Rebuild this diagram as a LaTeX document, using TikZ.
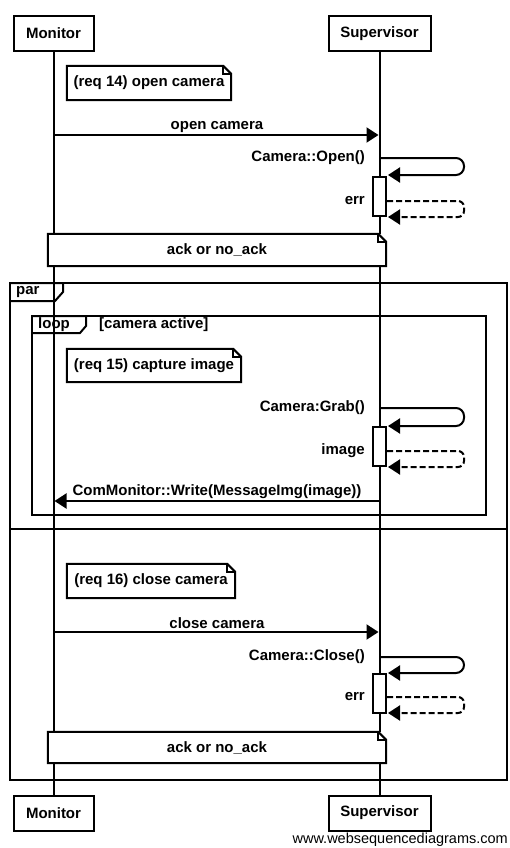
\documentclass[tikz,border=0pt]{standalone}
\usepackage{fontspec}
\setmainfont{Liberation Sans}
\usetikzlibrary{arrows.meta}
\tikzset{
  lbl/.style={font=\fontsize{15}{18}\selectfont\bfseries, inner sep=0pt},
  actor/.style={lbl, draw, line width=2pt, fill=white, minimum height=35pt},
  life/.style={line width=2pt},
  msg/.style={line width=2pt, -{Triangle[length=12pt,width=15pt]}},
  retmsg/.style={msg, dash pattern=on 6pt off 3pt},
  actbox/.style={draw, line width=2pt, fill=white, minimum width=13pt, minimum height=39pt, inner sep=0pt},
  notebox/.style={lbl, minimum height=33pt},
  frameline/.style={line width=2pt},
}
\newcommand{\noteoutline}[1]{%
  \draw[frameline, line join=miter] (#1.north west) -- ([xshift=-8pt]#1.north east) -- ([yshift=-8pt]#1.north east) -- (#1.south east) -- (#1.south west) -- cycle;
  \draw[line width=1.5pt] ([xshift=-8pt]#1.north east) -- ([xshift=-8pt,yshift=-8pt]#1.north east) -- ([yshift=-8pt]#1.north east);
}
\begin{document}
\begin{tikzpicture}[x=1pt,y=-1pt]
\useasboundingbox (0,0) rectangle (509,848);

% frames
\coordinate (parTL) at (10,283);
\coordinate (parBR) at (507,780);
\draw[frameline] (parTL) rectangle (parBR);
\draw[frameline] (parTL) -- (63,283) -- (63,292) -- (55,301) -- (10,301);
\node[lbl, anchor=west] (parlbl) at (16,292) {par};
\coordinate (sepL) at (10,529);
\coordinate (sepR) at (507,529);
\draw[frameline] (sepL) -- (sepR);

\coordinate (loopTL) at (32,316);
\coordinate (loopBR) at (486,515);
\draw[frameline] (loopTL) rectangle (loopBR);
\draw[frameline] (loopTL) -- (86,316) -- (86,326) -- (80,333) -- (32,333);
\node[lbl, anchor=west] (looplbl) at (38,324.5) {loop};
\node[lbl, anchor=west] (loopcond) at (99,324.5) {[camera active]};

% actors
\node[actor, minimum width=80pt] (monT) at (53.5,33.5) {Monitor};
\node[actor, minimum width=102pt] (supT) at (379.5,33.5) {Supervisor};
\node[actor, minimum width=80pt] (monB) at (53.5,813) {Monitor};
\node[actor, minimum width=102pt] (supB) at (379.5,813) {Supervisor};
\draw[life] (monT) -- (monB);
\draw[life] (supT) -- (supB);

% note req 14
\node[notebox, minimum width=164pt, minimum height=34pt] (n14) at (149,83) {(req 14) open camera};
\noteoutline{n14}

% open camera
\coordinate (oc1) at (54,135);
\coordinate (oc2) at (378.5,135);
\draw[msg] (oc1) -- (oc2);
\node[lbl] (oclbl) at (217,127) {open camera};

% Camera::Open()
\node[actbox] (act1) at (379.5,196.5) {};
\coordinate (co1) at (381,158);
\coordinate (co2) at (388,175);
\draw[msg, rounded corners=8pt] (co1) -- (464,158) -- (464,175) -- (co2);
\node[lbl, anchor=east] (colbl) at (365,158) {Camera::Open()};
\coordinate (er1) at (387,201);
\coordinate (er2) at (388,217);
\draw[retmsg, rounded corners=6pt] (er1) -- (464,201) -- (464,217) -- (er2);
\node[lbl, anchor=east] (erlbl) at (365,201) {err};

% ack note 1
\node[notebox, fill=white, minimum width=338pt, minimum height=32pt] (ack1) at (217,250) {ack or no\_ack};
\noteoutline{ack1}

% note req 15
\node[notebox, minimum width=174pt, minimum height=33pt] (n15) at (154,365.5) {(req 15) capture image};
\noteoutline{n15}

% Camera:Grab()
\node[actbox] (act2) at (379.5,446.5) {};
\coordinate (cg1) at (381,408);
\coordinate (cg2) at (388,426);
\draw[msg, rounded corners=8pt] (cg1) -- (464,408) -- (464,426) -- (cg2);
\node[lbl, anchor=east] (cglbl) at (365,408) {Camera:Grab()};
\coordinate (im1) at (387,451);
\coordinate (im2) at (388,467);
\draw[retmsg, rounded corners=6pt] (im1) -- (464,451) -- (464,467) -- (im2);
\node[lbl, anchor=east] (imlbl) at (365,451) {image};

% ComMonitor::Write
\coordinate (cw1) at (379,501);
\coordinate (cw2) at (54.5,501);
\draw[msg] (cw1) -- (cw2);
\node[lbl] (cwlbl) at (217,492) {ComMonitor::Write(MessageImg(image))};

% note req 16
\node[notebox, minimum width=168pt, minimum height=34pt] (n16) at (151,581) {(req 16) close camera};
\noteoutline{n16}

% close camera
\coordinate (cc1) at (54,632);
\coordinate (cc2) at (378.5,632);
\draw[msg] (cc1) -- (cc2);
\node[lbl] (cclbl) at (217,623) {close camera};

% Camera::Close()
\node[actbox] (act3) at (379.5,693.5) {};
\coordinate (cl1) at (381,657);
\coordinate (cl2) at (388,673);
\draw[msg, rounded corners=8pt] (cl1) -- (464,657) -- (464,673) -- (cl2);
\node[lbl, anchor=east] (cllbl) at (365,657) {Camera::Close()};
\coordinate (er3) at (387,697);
\coordinate (er4) at (388,713);
\draw[retmsg, rounded corners=6pt] (er3) -- (464,697) -- (464,713) -- (er4);
\node[lbl, anchor=east] (er2lbl) at (365,697) {err};

% ack note 2
\node[notebox, fill=white, minimum width=338pt, minimum height=31pt] (ack2) at (217,747.5) {ack or no\_ack};
\noteoutline{ack2}

% watermark
\node[font=\fontsize{14.5}{17}\selectfont, inner sep=0pt, anchor=east] (wm) at (508,840) {www.websequencediagrams.com};
\end{tikzpicture}
\end{document}
